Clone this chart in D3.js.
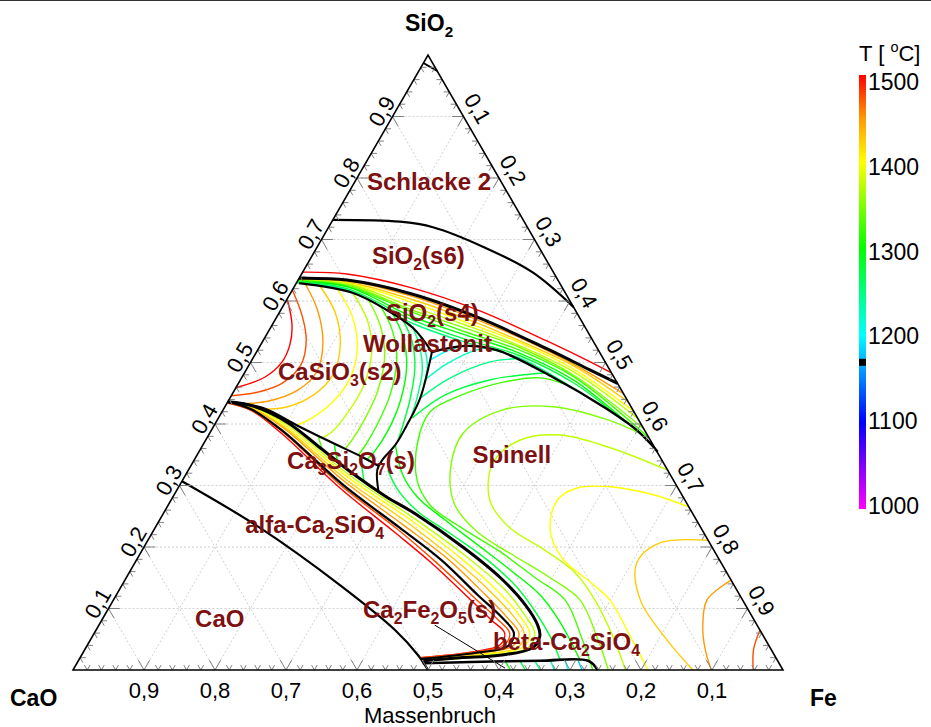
<!DOCTYPE html>
<html><head><meta charset="utf-8">
<script src="https://cdn.jsdelivr.net/npm/d3@7"></script>
<style>
html,body{margin:0;padding:0;background:#fff;}
svg{display:block;}
text{font-family:"Liberation Sans",Arial,Helvetica,sans-serif;}
</style></head>
<body><svg id="chart" width="931" height="727"></svg>
<script>
// ---------- axis / tick data (mass fractions) ----------
const gridValues = [0.1,0.2,0.3,0.4,0.5,0.6,0.7,0.8,0.9];
const bottomTickLabels = ["0,9","0,8","0,7","0,6","0,5","0,4","0,3","0,2","0,1"]; // CaO
const bottomTickValues = [0.9,0.8,0.7,0.6,0.5,0.4,0.3,0.2,0.1];
const leftTickLabels = ["0,1","0,2","0,3","0,4","0,5","0,6","0,7","0,8","0,9"];   // SiO2
const leftTickValues = [0.1,0.2,0.3,0.4,0.5,0.6,0.7,0.8,0.9];
const rightTickLabels = ["0,1","0,2","0,3","0,4","0,5","0,6","0,7","0,8","0,9"];  // Fe
const rightTickValues = [0.1,0.2,0.3,0.4,0.5,0.6,0.7,0.8,0.9];
const colorbarTicks = [1000,1100,1200,1300,1400,1500];
const colorbarLabels = ["1000","1100","1200","1300","1400","1500"];
const tempStops = [1000,1100,1200,1300,1400,1450,1500];
const tempColors = ["#ff00ff","#0000ff","#00ffff","#00ff00","#ffff00","#ff9900","#ff0000"];
const markerTemp = 1169;

// ---------- phase boundaries: points are [Fe, SiO2] ----------
const bTop   = [[0,.987],[.026,.974]];
const bSchl  = [[0,.732],[.096,.729],[.147,.720],[.234,.688],[.325,.646],[.410,.590]];
const bS6S4  = [[0,.637],[.069,.634],[.173,.611],[.287,.572],[.407,.522],[.484,.488],[.534,.466]];
const bCaSiO3= [[.004,.629],[.088,.613],[.150,.585],[.201,.556],[.247,.517]];
const bS4Liq = [[.247,.517],[.289,.527],[.337,.520],[.438,.476],[.533,.428],[.599,.390],[.646,.355]];
const bWoll  = [[.247,.517],[.268,.442],[.271,.402],[.271,.366],[.265,.342],[.266,.325],[.286,.289]];
const bC3S2  = [[0,.436],[.055,.426],[.116,.398],[.177,.371],[.235,.346],[.264,.332]];
const bC2S_A = [[0,.436],[.039,.429],[.100,.403],[.168,.361],[.235,.319],[.298,.283],[.355,.254],[.449,.200],[.527,.150],[.584,.106],[.618,.073],[.630,.055],[.629,.036],[.589,.024],[.535,.020],[.486,.015]];
const bC2S_B = [[0,.436],[.039,.424],[.099,.390],[.230,.301],[.345,.231],[.429,.179],[.509,.122],[.562,.085],[.591,.060],[.593,.039],[.554,.028],[.481,.018]];
const bBeta  = [[.487,.011],[.553,.013],[.650,.015],[.718,.015],[.739,0]];
const bCaO   = [[0,.307],[.148,.231],[.307,.138],[.421,.065],[.474,.024],[.500,0]];
const leaderCa2Fe2O5 = [[.473,.073],[.607,.003]];

// ---------- isotherms [Fe, SiO2], temperature in degC ----------
const iso1500_s6 = [[0,.647],[.064,.644],[.168,.621],[.281,.584],[.400,.535],[.478,.501],[.517,.483]];
// SiO2(s4) band
const band1450 = [[0,.636],[.070,.633],[.176,.607],[.264,.577],[.360,.540],[.459,.496],[.551,.449]];
const band1425 = [[0,.636],[.070,.631],[.178,.602],[.266,.572],[.362,.535],[.461,.493],[.564,.436]];
const band1400 = [[0,.634],[.071,.629],[.181,.597],[.269,.566],[.364,.532],[.463,.488],[.579,.421]];
const band1375 = [[0,.634],[.072,.628],[.184,.590],[.272,.561],[.366,.527],[.466,.483],[.594,.407]];
const band1350 = [[0,.633],[.073,.626],[.186,.585],[.274,.556],[.368,.524],[.468,.478],[.608,.392]];
const band1325 = [[0,.633],[.074,.624],[.189,.581],[.277,.550],[.369,.520],[.470,.475],[.623,.377]];
const band1300 = [[0,.631],[.075,.623],[.192,.574],[.280,.545],[.372,.515],[.472,.470],[.636,.364]];
const band1275 = [[0,.631],[.076,.620],[.194,.569],[.283,.538],[.374,.511],[.475,.465],[.576,.403]];
const band1250 = [[0,.629],[.077,.618],[.198,.563],[.286,.533],[.376,.507],[.498,.446]];
// CaSiO3(s2) arcs
const arc1500 = [[.001,.602],[.028,.561],[.041,.529],[.044,.501],[.032,.476],[0,.459]];
const arc1475 = [[0,.618],[.034,.577],[.060,.537],[.073,.496],[.062,.467],[.035,.452],[0,.446]];
const arc1450 = [[.013,.628],[.052,.585],[.086,.532],[.101,.485],[.089,.455],[.056,.437],[.019,.433]];
const arc1425 = [[.036,.624],[.078,.582],[.112,.529],[.126,.480],[.115,.447],[.088,.428],[.058,.424]];
const arc1400 = [[.062,.620],[.105,.576],[.138,.525],[.153,.475],[.148,.436],[.132,.410],[.116,.398]];
const arc1375 = [[.088,.613],[.130,.569],[.161,.520],[.178,.463],[.178,.420],[.171,.387],[.162,.377]];
const arc1350 = [[.115,.602],[.152,.561],[.183,.512],[.202,.455],[.207,.407],[.206,.374],[.203,.359]];
const arc1325 = [[.139,.590],[.173,.553],[.204,.504],[.223,.447],[.229,.398],[.229,.363],[.227,.350]];
const arc1300 = [[.161,.579],[.193,.543],[.222,.496],[.242,.439],[.249,.390],[.247,.355],[.243,.342]];
const arc1275 = [[.181,.568],[.210,.535],[.236,.491],[.255,.439],[.271,.374]];
const arc1250 = [[.199,.558],[.223,.529],[.248,.488],[.262,.447],[.270,.415]];
const arc1225 = [[.218,.542],[.236,.520],[.251,.496],[.262,.465]];
// Ca3Si2O7(s)
const c3s1325 = [[.154,.382],[.172,.358]];
const c3s1300 = [[.184,.368],[.199,.345],[.207,.335]];
const c3s1275 = [[.230,.348],[.245,.325],[.257,.306]];
// Spinell / liquid
const sp1200 = [[.251,.504],[.265,.517],[.280,.525]];
const sp1225 = [[.260,.472],[.276,.496],[.301,.517],[.319,.524]];
const sp1250 = [[.268,.442],[.294,.475],[.337,.501],[.370,.506]];
const sp1275 = [[.273,.410],[.300,.447],[.352,.472],[.403,.481],[.423,.483]];
const sp1275b= [[.281,.325],[.311,.293],[.358,.257],[.424,.220],[.494,.179],[.560,.133],[.610,.089],[.650,.049],[.679,.015]];
const sp1300 = [[.271,.366],[.306,.317],[.346,.280],[.402,.244],[.469,.203],[.534,.163],[.597,.122],[.647,.078],[.683,.041],[.707,.015]];
const sp1325 = [[.460,.465],[.420,.475],[.372,.468],[.322,.446],[.293,.420],[.299,.374],[.330,.309],[.369,.268],[.432,.231],[.506,.192],[.576,.150],[.636,.114],[.693,.049],[.732,0]];
const sp1350 = [[.608,.384],[.549,.407],[.462,.428],[.394,.423],[.357,.385],[.369,.325],[.404,.268],[.458,.224],[.530,.185],[.597,.150],[.657,.114],[.715,.049],[.754,0]];
const sp1375 = [[.675,.325],[.571,.363],[.495,.382],[.443,.374],[.423,.337],[.449,.276],[.497,.233],[.567,.195],[.627,.159],[.678,.114],[.738,.049],[.778,0]];
const sp1400 = [[.735,.265],[.675,.285],[.608,.298],[.562,.296],[.544,.276],[.558,.228],[.598,.182],[.657,.143],[.699,.114],[.763,.049],[.810,0]];
const sp1425 = [[.789,.211],[.724,.207],[.707,.174],[.742,.114],[.812,.049],[.873,0]];
const sp1450 = [[.854,.146],[.836,.114],[.852,.070],[.874,.033],[.899,0]];
const sp1475 = [[.935,.065],[.942,.033],[.958,0]];
// alfa-Ca2SiO4 band
const c2s1500 = [[.001,.434],[.038,.423],[.098,.387],[.228,.296],[.341,.224],[.415,.176],[.496,.119],[.549,.081],[.578,.060],[.581,.041],[.545,.029],[.479,.020]];
const c2s1475 = [[.001,.434],[.038,.423],[.099,.389],[.229,.299],[.344,.228],[.421,.177],[.503,.120],[.556,.083],[.585,.060],[.587,.041],[.549,.029],[.479,.020]];
const c2s1450 = [[0,.436],[.038,.426],[.099,.394],[.230,.306],[.347,.236],[.437,.181],[.516,.125],[.568,.086],[.598,.060],[.600,.039],[.559,.028],[.481,.018]];
const c2s1425 = [[0,.436],[.039,.426],[.100,.395],[.231,.309],[.349,.241],[.444,.182],[.525,.127],[.576,.088],[.606,.059],[.608,.037],[.566,.026],[.483,.016]];
const c2s1400 = [[0,.436],[.038,.428],[.099,.398],[.233,.312],[.350,.246],[.452,.184],[.533,.129],[.584,.089],[.614,.059],[.615,.037],[.572,.026],[.483,.016]];
const c2s1375 = [[0,.436],[.040,.428],[.100,.400],[.234,.315],[.353,.249],[.461,.185],[.541,.132],[.590,.091],[.621,.059],[.623,.036],[.577,.024],[.486,.015]];
// beta-Ca2SiO4 strip
const beta1300 = [[.601,.015],[.616,0]];
const beta1275 = [[.622,.015],[.637,0]];
const beta1250 = [[.643,.015],[.658,0]];
const beta1225 = [[.665,.015],[.678,0]];
const beta1200 = [[.686,.015],[.697,0]];
const beta1180 = [[.704,.015],[.717,0]];

const isotherms = [
  [1500,iso1500_s6],
  [1450,band1450],[1425,band1425],[1400,band1400],[1375,band1375],[1350,band1350],[1325,band1325],[1300,band1300],[1275,band1275],[1250,band1250],
  [1500,arc1500],[1475,arc1475],[1450,arc1450],[1425,arc1425],[1400,arc1400],[1375,arc1375],[1350,arc1350],[1325,arc1325],[1300,arc1300],[1275,arc1275],[1250,arc1250],[1225,arc1225],
  [1325,c3s1325],[1300,c3s1300],[1275,c3s1275],
  [1200,sp1200],[1225,sp1225],[1250,sp1250],[1275,sp1275],[1275,sp1275b],[1300,sp1300],[1325,sp1325],[1350,sp1350],[1375,sp1375],[1400,sp1400],[1425,sp1425],[1450,sp1450],[1475,sp1475],
  [1500,c2s1500],[1475,c2s1475],[1450,c2s1450],[1425,c2s1425],[1400,c2s1400],[1375,c2s1375],
  [1300,beta1300],[1275,beta1275],[1250,beta1250],[1225,beta1225],[1200,beta1200],[1180,beta1180]
];
const boundaries = [
  [bTop,2],[bSchl,2.2],[bS6S4,3],[bCaSiO3,2.2],[bS4Liq,2.4],[bWoll,2],[bC3S2,2.2],
  [bC2S_B,2.2],[bC2S_A,3],[bBeta,2.6],[bCaO,2.2]
];

// phase labels: text and the [Fe, SiO2] point of the text start (baseline)
const phaseLabels = ["Schlacke 2","SiO_2(s6)","SiO_2(s4)","Wollastonit","CaSiO_3(s2)","Ca_3Si_2O_7(s)","alfa-Ca_2SiO_4","Spinell","CaO","Ca_2Fe_2O_5(s)","beta-Ca_2SiO_4"];
const phaseLabelFe   = [0.024,0.091,0.157,0.150,0.053,0.138,0.131,0.394,0.137,0.366,0.575];
const phaseLabelSiO2 = [0.780,0.660,0.5675,0.517,0.4715,0.327,0.223,0.337,0.070,0.085,0.033];

// ---------- drawing ----------
const svg = d3.select("#chart");
const X = d3.scaleLinear().domain([0,1]).range([73,783]);
const Y = d3.scaleLinear().domain([0,1]).range([670,55]);
const px = d => X(d[0] + d[1]/2), py = d => Y(d[1]);
const smooth = d3.line().x(px).y(py).curve(d3.curveCatmullRom.alpha(0.5));
const straight = d3.line().x(px).y(py);
const tempColor = d3.scaleLinear().domain(tempStops).range(tempColors).interpolate(d3.interpolateRgb);

svg.append("line").attr("x1",0).attr("x2",931).attr("y1",0.5).attr("y2",0.5).attr("stroke","#333").attr("stroke-width",1.2);

// grid
const gGrid = svg.append("g").attr("fill","none").attr("stroke","#c4c4c4").attr("stroke-width",0.8).attr("stroke-dasharray","2,2");
gridValues.forEach(v => {
  gGrid.append("path").attr("d", straight([[0,v],[1-v,v]]));
  gGrid.append("path").attr("d", straight([[v,0],[v,1-v]]));
  gGrid.append("path").attr("d", straight([[1-v,0],[0,1-v]]));
});

// isotherms
const gIso = svg.append("g").attr("fill","none").attr("stroke-width",1.4).attr("stroke-linejoin","round");
isotherms.forEach(([t,pts]) => gIso.append("path").attr("d", smooth(pts)).attr("stroke", tempColor(t)));

// boundaries
const gB = svg.append("g").attr("fill","none").attr("stroke","#000").attr("stroke-linejoin","round");
boundaries.forEach(([pts,w]) => gB.append("path").attr("d", smooth(pts)).attr("stroke-width", w));
gB.append("path").attr("d", straight(leaderCa2Fe2O5)).attr("stroke-width",1);

// ticks
const gT = svg.append("g").attr("stroke","#808080").attr("stroke-width",1);
const seg = (a,b) => gT.append("line").attr("x1",px(a)).attr("y1",py(a)).attr("x2",px(b)).attr("y2",py(b));
d3.range(1,50).forEach(i => {
  const v = i/50, d = (i%5===0) ? 0.016 : 0.008;
  seg([v,0],[v,d]); seg([v,0],[v-d,d]);
  seg([0,v],[d,v]); seg([0,v],[d,v-d]);
  seg([v,1-v],[v-d,1-v]); seg([v,1-v],[v,1-v-d]);
});

// triangle
svg.append("path").attr("d", straight([[0,0],[1,0],[0,1]]) + "Z").attr("fill","none").attr("stroke","#000").attr("stroke-width",1.6).attr("stroke-linejoin","miter");

// rich text helper: _x subscript, ^x superscript
function rich(sel, str, x, y, size, weight, fill, anchor, transform) {
  const t = sel.append("text").attr("x",x).attr("y",y).attr("font-size",size)
    .attr("font-weight",weight).attr("fill",fill).attr("text-anchor",anchor||"start");
  if (transform) t.attr("transform",transform);
  const parts = []; const re = /([_^])(.)|([^_^]+)/g; let m;
  while ((m = re.exec(str))) parts.push(m[3] ? {k:"n",s:m[3]} : {k:m[1]==="_"?"sub":"sup",s:m[2]});
  let shift = 0;
  parts.forEach(p => {
    const target = p.k==="sub" ? size*0.25 : p.k==="sup" ? -size*0.42 : 0;
    t.append("tspan").attr("dy", target-shift).attr("font-size", p.k==="n" ? size : size*0.66).text(p.s);
    shift = target;
  });
  return t;
}

// phase labels
const gL = svg.append("g");
phaseLabels.forEach((s,i) => {
  const pt = [phaseLabelFe[i], phaseLabelSiO2[i]];
  rich(gL, s, px(pt), py(pt), 24, "bold", "#7d1010");
});

// tick labels
const gTL = svg.append("g").attr("fill","#000");
bottomTickValues.forEach((v,i) => {
  const pt=[1-v,0];
  gTL.append("text").attr("x",px(pt)).attr("y",py(pt)+28).attr("text-anchor","middle").attr("font-size",22).text(bottomTickLabels[i]);
});
leftTickValues.forEach((v,i) => {
  const pt=[0,v]; const cx=px(pt)-0.866*13+0.75, cy=py(pt)-0.5*13+1.3;
  gTL.append("text").attr("x",cx).attr("y",cy).attr("text-anchor","middle").attr("dominant-baseline","central")
    .attr("font-size",22).attr("transform",`rotate(-60,${cx},${cy})`).text(leftTickLabels[i]);
});
rightTickValues.forEach((v,i) => {
  const pt=[v,1-v]; const cx=px(pt)+0.866*16, cy=py(pt)-0.5*16;
  gTL.append("text").attr("x",cx).attr("y",cy).attr("text-anchor","middle").attr("dominant-baseline","central")
    .attr("font-size",22).attr("transform",`rotate(60,${cx},${cy})`).text(rightTickLabels[i]);
});

// corner / axis titles
rich(svg, "SiO_2", 405, 31, 23, "bold", "#000");
rich(svg, "CaO", 10, 706, 23, "bold", "#000");
rich(svg, "Fe", 810, 706, 23, "bold", "#000");
rich(svg, "Massenbruch", 430, 723, 22, "normal", "#000", "middle");

// colour bar
const cbY = d3.scaleLinear().domain([1000,1500]).range([509,75]);
const cbLabelY = d3.scaleLinear().domain([1000,1500]).range([506,82]);
const grad = svg.append("defs").append("linearGradient").attr("id","cb").attr("x1",0).attr("x2",0).attr("y1",1).attr("y2",0);
tempStops.forEach(t => grad.append("stop").attr("offset",(t-1000)/500).attr("stop-color",tempColor(t)));
svg.append("rect").attr("x",859).attr("y",cbY(1500)).attr("width",7).attr("height",cbY(1000)-cbY(1500)).attr("fill","url(#cb)");
svg.append("rect").attr("x",859).attr("y",cbY(markerTemp)-3.5).attr("width",7).attr("height",7).attr("fill","#000");
colorbarTicks.forEach((t,i) => {
  svg.append("text").attr("x",868).attr("y",cbLabelY(t)).attr("dominant-baseline","central").attr("font-size",23).text(colorbarLabels[i]);
});
rich(svg, "T [ ^oC]", 859, 61, 22, "normal", "#000");
</script>
</body></html>
